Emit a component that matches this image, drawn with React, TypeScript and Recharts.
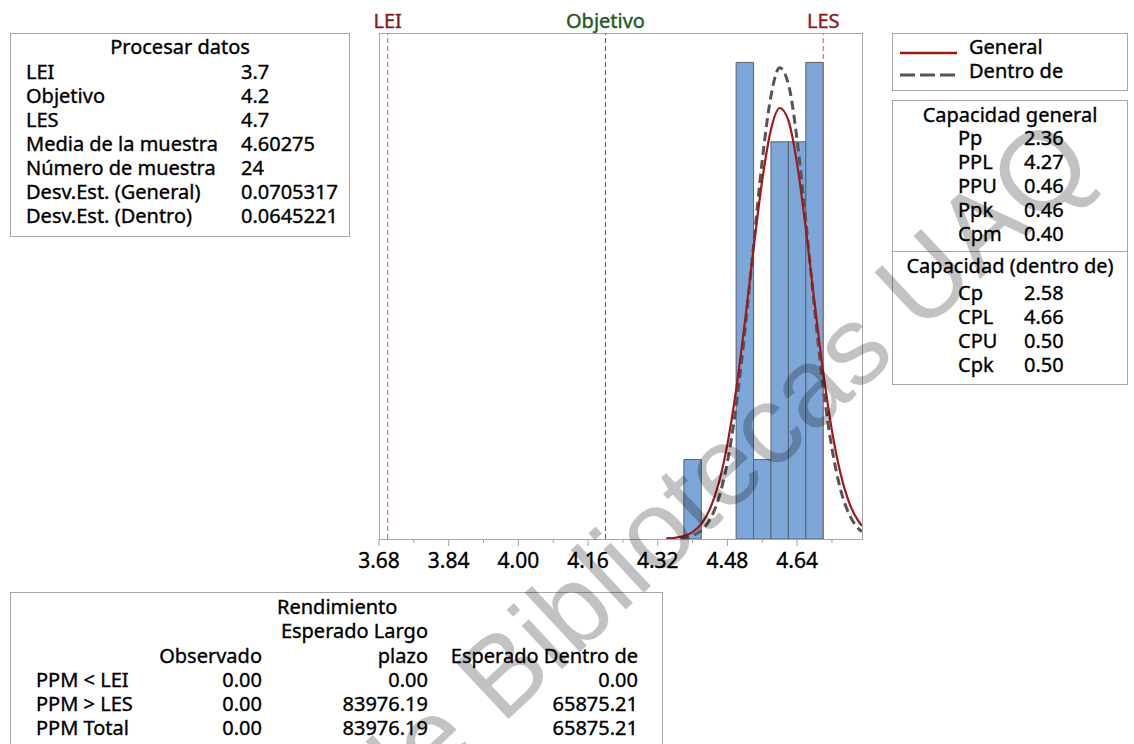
import { ComposedChart, XAxis, YAxis, Line, ReferenceArea, ReferenceLine } from 'recharts'

const FONT = '"Noto Sans", "Open Sans", sans-serif'

// límites de especificación
const LEI = 3.7
const OBJETIVO = 4.2
const LES = 4.7

const xDomain = [3.68, 4.789]
const yDomain = [0, 6.37]
const majorTicks = [3.68, 3.84, 4.0, 4.16, 4.32, 4.48, 4.64]
const minorTicks = [3.76, 3.92, 4.08, 4.24, 4.4, 4.56, 4.72]

// histograma (conteos por clase)
const binStart = [4.38, 4.42, 4.46, 4.5, 4.54, 4.58, 4.62, 4.66]
const binEnd = [4.42, 4.46, 4.5, 4.54, 4.58, 4.62, 4.66, 4.7]
const binCount = [1, 0, 0, 6, 1, 5, 5, 6]

// curvas normales
const fitX = [4.34, 4.36, 4.38, 4.4, 4.42, 4.44, 4.46, 4.48, 4.5, 4.52, 4.54, 4.56, 4.58, 4.6, 4.62, 4.64, 4.66, 4.68, 4.7, 4.72, 4.74, 4.76, 4.78, 4.789]
const generalFit = [0.005, 0.015, 0.037, 0.087, 0.189, 0.379, 0.701, 1.194, 1.879, 2.728, 3.655, 4.519, 5.155, 5.426, 5.27, 4.723, 3.906, 2.981, 2.099, 1.363, 0.818, 0.452, 0.231, 0.166]
const withinFit = [0.002, 0.005, 0.015, 0.043, 0.108, 0.247, 0.514, 0.972, 1.67, 2.608, 3.699, 4.766, 5.578, 5.931, 5.728, 5.025, 4.004, 2.899, 1.906, 1.139, 0.618, 0.305, 0.136, 0.092]

const procesoLabels = ['LEI', 'Objetivo', 'LES', 'Media de la muestra', 'Número de muestra', 'Desv.Est. (General)', 'Desv.Est. (Dentro)']
const procesoValues = ['3.7', '4.2', '4.7', '4.60275', '24', '0.0705317', '0.0645221']

const generalLabels = ['Pp', 'PPL', 'PPU', 'Ppk', 'Cpm']
const generalValues = ['2.36', '4.27', '0.46', '0.46', '0.40']
const dentroLabels = ['Cp', 'CPL', 'CPU', 'Cpk']
const dentroValues = ['2.58', '4.66', '0.50', '0.50']

const ppmLabels = ['PPM < LEI', 'PPM > LES', 'PPM Total']
const ppmObservado = ['0.00', '0.00', '0.00']
const ppmLargo = ['0.00', '83976.19', '83976.19']
const ppmDentro = ['0.00', '65875.21', '65875.21']

const AxisTick = (props: any) => {
  const { x, y, payload } = props
  const major = majorTicks.includes(payload.value)
  return (
    <g>
      <line x1={x} x2={x} y1={y} y2={y + (major ? 7 : 4)} stroke="#a0a0a0" />
      {major && (
        <text x={x} y={y + 21} textAnchor="middle" dominantBaseline="central" fontSize={21}
          fill="#000" stroke="#000" strokeWidth={0.35} fontFamily={FONT}>
          {payload.value.toFixed(2)}
        </text>
      )}
    </g>
  )
}

const T = ({ x, cy, children, align = 'left', size = 20 }: any) => {
  const style: any = {
    position: 'absolute',
    top: cy - 11,
    lineHeight: '22px',
    fontSize: size,
    whiteSpace: 'nowrap',
    WebkitTextStroke: '0.35px #000',
  }
  if (align === 'left') style.left = x
  if (align === 'right') { style.left = x - 300; style.width = 300; style.textAlign = 'right' }
  if (align === 'center') { style.left = x - 150; style.width = 300; style.textAlign = 'center' }
  return <div style={style}>{children}</div>
}

const Box = ({ left, top, width, height }: any) => (
  <div style={{ position: 'absolute', left, top, width, height, boxSizing: 'border-box', border: '1px solid #a6a6a6' }} />
)

const specLabel = (value: string, color: string) => ({
  value, position: 'top' as const, fill: color, stroke: color, strokeWidth: 0.4, fontSize: 20, fontFamily: FONT,
})

export default function App() {
  const general = fitX.map((x, i) => ({ x, y: generalFit[i] }))
  const within = fitX.map((x, i) => ({ x, y: withinFit[i] }))
  const allTicks = [...majorTicks, ...minorTicks].sort((a, b) => a - b)

  return (
    <div style={{ position: 'absolute', left: 0, top: 0, width: 1134, height: 744, background: '#fff', overflow: 'hidden', fontFamily: FONT, color: '#000' }}>
      <div style={{ position: 'absolute', left: 0, top: 0 }}>
        <ComposedChart width={1134} height={600} margin={{ top: 33, right: 272, bottom: 21, left: 379 }}>
          <XAxis
            type="number"
            dataKey="x"
            domain={xDomain}
            allowDataOverflow
            ticks={allTicks}
            interval={0}
            tick={(p: any) => <AxisTick {...p} />}
            tickLine={false}
            axisLine={false}
            tickSize={0}
            tickMargin={0}
            height={40}
          />
          <YAxis type="number" domain={yDomain} allowDataOverflow hide width={0} />
          {binStart.map((s, i) =>
            binCount[i] > 0 ? (
              <ReferenceArea key={s} x1={s} x2={binEnd[i]} y1={0} y2={binCount[i]} fill="#7da7d9" fillOpacity={1} stroke="#58626d" strokeWidth={1} />
            ) : null
          )}
          <ReferenceLine x={LEI} stroke="#e0505a" strokeDasharray="5 3" label={specLabel('LEI', '#8e1b1b')} />
          <ReferenceLine x={OBJETIVO} stroke="#2c6e2c" strokeDasharray="5 3" label={specLabel('Objetivo', '#1f5a1f')} />
          <ReferenceLine x={LES} stroke="#e0505a" strokeDasharray="5 3" label={specLabel('LES', '#8e1b1b')} />
          <Line data={within} dataKey="y" type="monotone" stroke="#555555" strokeWidth={3} strokeDasharray="9 5" dot={false} isAnimationActive={false} />
          <Line data={general} dataKey="y" type="monotone" stroke="#a01818" strokeWidth={2.2} dot={false} isAnimationActive={false} />
        </ComposedChart>
      </div>
      <Box left={379} top={33} width={484} height={507} />

      {/* Procesar datos */}
      <Box left={10} top={33} width={340} height={204} />
      <T x={180} cy={47} align="center">Procesar datos</T>
      {procesoLabels.map((l, i) => (
        <div key={l}>
          <T x={26} cy={72 + i * 24}>{l}</T>
          <T x={241} cy={72 + i * 24}>{procesoValues[i]}</T>
        </div>
      ))}

      {/* leyenda */}
      <Box left={892} top={33} width={236} height={58} />
      <svg width={70} height={60} style={{ position: 'absolute', left: 895, top: 33 }}>
        <line x1={5} x2={62} y1={20} y2={20} stroke="#a01818" strokeWidth={2.5} />
        <line x1={5} x2={62} y1={42} y2={42} stroke="#555555" strokeWidth={3} strokeDasharray="15 5" />
      </svg>
      <T x={969} cy={47}>General</T>
      <T x={969} cy={71}>Dentro de</T>

      {/* capacidad */}
      <Box left={892} top={100} width={236} height={285} />
      <div style={{ position: 'absolute', left: 892, top: 251, width: 236, height: 1, background: '#a6a6a6' }} />
      <T x={1010} cy={115} align="center">Capacidad general</T>
      {generalLabels.map((l, i) => (
        <div key={l}>
          <T x={958} cy={138 + i * 24}>{l}</T>
          <T x={1024} cy={138 + i * 24}>{generalValues[i]}</T>
        </div>
      ))}
      <T x={1010} cy={266} align="center">Capacidad (dentro de)</T>
      {dentroLabels.map((l, i) => (
        <div key={l}>
          <T x={958} cy={293 + i * 24}>{l}</T>
          <T x={1024} cy={293 + i * 24}>{dentroValues[i]}</T>
        </div>
      ))}

      {/* rendimiento */}
      <Box left={10} top={592} width={653} height={200} />
      <T x={277} cy={607}>Rendimiento</T>
      <T x={428} cy={631} align="right">Esperado Largo</T>
      <T x={262} cy={656} align="right">Observado</T>
      <T x={428} cy={656} align="right">plazo</T>
      <T x={638} cy={656} align="right">Esperado Dentro de</T>
      {ppmLabels.map((l, i) => (
        <div key={l}>
          <T x={36} cy={680 + i * 24}>{l}</T>
          <T x={262} cy={680 + i * 24} align="right">{ppmObservado[i]}</T>
          <T x={428} cy={680 + i * 24} align="right">{ppmLargo[i]}</T>
          <T x={638} cy={680 + i * 24} align="right">{ppmDentro[i]}</T>
        </div>
      ))}

      {/* marca de agua */}
      <svg width={1134} height={744} style={{ position: 'absolute', left: 0, top: 0, pointerEvents: 'none' }}>
        <g transform="translate(502 725) rotate(-43)">
          <text x={-156} y={0} fontSize={112} fontFamily='"Liberation Sans", Arial, sans-serif' fill="#000" fillOpacity={0.24}>
            de Bibliotecas UAQ
          </text>
        </g>
      </svg>
    </div>
  )
}
